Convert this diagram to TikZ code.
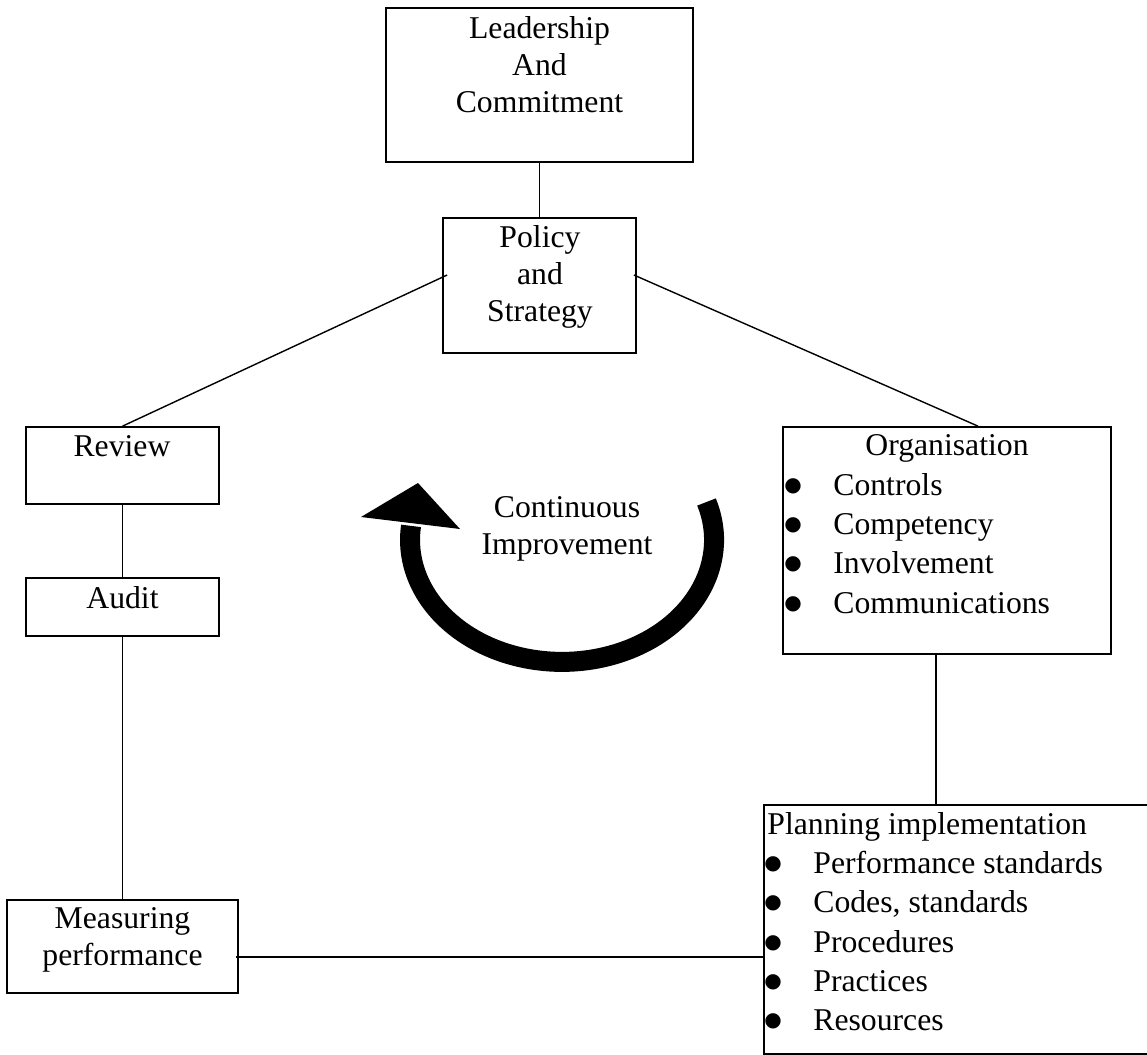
\documentclass[tikz,border=0pt]{standalone}
\usepackage{fontspec}
\setmainfont{Liberation Serif}
\newfontfamily\bltfont{DejaVu Sans}
\newcommand\fsA{\fontsize{15.85pt}{18.5pt}\selectfont}
\newcommand\fsB{\fontsize{15.85pt}{19.6pt}\selectfont}
\newcommand\tstr{\rule{0pt}{13pt}}
\newcommand\blt{\makebox[23pt][l]{\hspace{-1.5pt}\raisebox{2pt}{\bltfont\fontsize{10pt}{10pt}\selectfont ●}}}
\begin{document}
\begin{tikzpicture}[x=0.5pt,y=-0.5pt,
  box/.style={draw, line width=0.85pt, inner sep=0pt, rectangle},
  conn/.style={line width=0.7pt},
  txt/.style={inner sep=0pt, align=center, anchor=north, font=\fsA},
  lst/.style={inner sep=0pt, align=left, anchor=north west, font=\fsB},
  one/.style={inner sep=0pt, anchor=base, font=\fsA}]
\useasboundingbox (0,0) rectangle (1147,1055);
\fill[white] (0,0) rectangle (1147,1055);
\clip (0,0) rectangle (1147,1055);

% boxes
\node[box, minimum width=153.5pt, minimum height=77pt] (lead) at (539.5,85) {};
\node[box, minimum width=96.5pt, minimum height=67.5pt] (pol) at (539.5,285.5) {};
\node[box, minimum width=96.5pt, minimum height=38.5pt] (rev) at (122.5,465.5) {};
\node[box, minimum width=96.5pt, minimum height=29pt] (aud) at (122.5,607) {};
\node[box, minimum width=115.5pt, minimum height=46.5pt] (meas) at (122.5,946.5) {};
\node[box, minimum width=164pt, minimum height=113.5pt] (org) at (947,540.5) {};
\node[box, minimum width=198pt, minimum height=124.5pt] (plan) at (962,929.5) {};

% texts
\node[txt] (leadT) at (539.5,12) {\tstr Leadership\\And\\Commitment};
\node[txt] (polT) at (540,221) {\tstr Policy\\and\\Strategy};
\node[one] (revT) at (122,456) {Review};
\node[one] (audT) at (122.5,608) {Audit};
\node[txt] (measT) at (122.5,902) {\tstr Measuring\\performance};
\node[txt] (contT) at (567,491) {\tstr Continuous\\Improvement};
\node[one] (orgT) at (947,455) {Organisation};
\node[lst] (orgL) at (787,469) {\tstr\blt Controls\\\blt Competency\\\blt Involvement\\\blt Communications};
\node[lst] (planT) at (767,808) {\tstr Planning implementation\\\blt Performance standards\\\blt Codes, standards\\\blt Procedures\\\blt Practices\\\blt Resources};

% connectors
\draw[conn] (lead.south) -- (pol.north);
\draw[conn] ([shift={(5,-10.5)}]pol.west) -- (rev.north);
\draw[conn] ([shift={(-3,-10.5)}]pol.east) -- ([shift={(31,0)}]org.north);
\draw[conn] (rev.south) -- (aud.north);
\draw[conn] (aud.south) -- (meas.north);
\draw[conn] ([shift={(-3,10.5)}]meas.east) -- ([shift={(0,27.5)}]plan.west);
\draw[conn] ([xshift=-5.5pt]org.south) -- ([xshift=-5.5pt]org.south |- plan.north);

% continuous improvement arrow
\draw[line width=10pt] (706.5,502) arc[start angle=-18.1, end angle=186.6, x radius=152, y radius=122];
\fill (361,517) -- (418,483) -- (460,529) -- cycle;
\end{tikzpicture}
\end{document}
